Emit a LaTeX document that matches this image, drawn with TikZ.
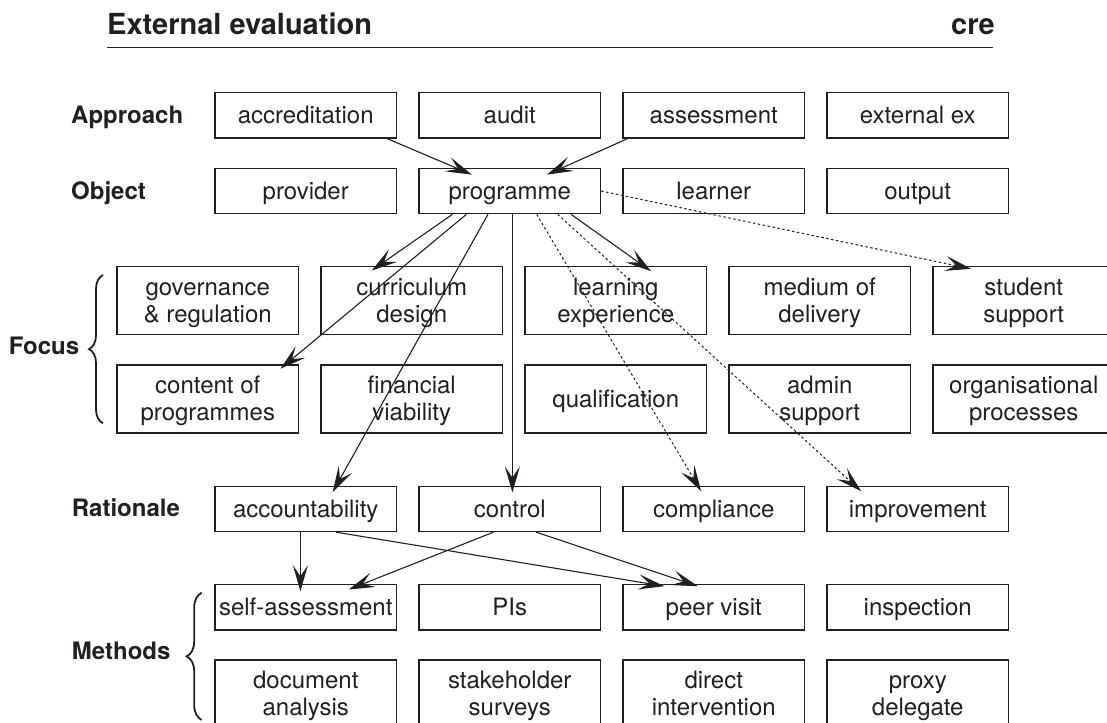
\documentclass[tikz,border=0pt]{standalone}
\usepackage{fontspec}
\setmainfont{TeX Gyre Heros}
\usetikzlibrary{arrows.meta,decorations.pathreplacing}
\definecolor{ink}{RGB}{35,31,32}
\begin{document}
\begin{tikzpicture}[x=1pt,y=-1pt,
  box/.style={draw=ink, line width=1.2pt, inner sep=0pt, minimum width=181.5pt, text=ink, font=\fontsize{24}{26.7}\selectfont},
  one/.style={box, minimum height=45.5pt, text height=17.3pt, text depth=1pt},
  onetall/.style={box, minimum height=68pt, text height=17.3pt, text depth=1pt},
  two/.style={box, minimum height=68pt, align=center, text height=44pt, text depth=1pt},
  rowlabel/.style={anchor=base west, inner sep=0pt, text=ink, font=\bfseries\fontsize{24}{26.7}\selectfont},
  headtext/.style={inner sep=0pt, text=ink, font=\bfseries\fontsize{29}{32}\selectfont},
  conn/.style={draw=ink, line width=1.1pt, -{Stealth[length=26pt,width=15pt,inset=11pt]}},
  dotconn/.style={conn, dash pattern=on 2.5pt off 2.5pt, line width=1pt},
  bracestyle/.style={draw=ink, line width=1.8pt, decorate},
]
\useasboundingbox (0,0) rectangle (1107,722);

% header
\node[headtext, anchor=base west] (title) at (107,35) {External evaluation};
\node[headtext, anchor=base east] (cre) at (995,35) {cre};
\coordinate (rl) at (107,47.7);
\coordinate (rr) at (993,47.7);
\draw[ink, line width=1.3pt] (rl) -- (rr);

% row labels
\node[rowlabel] (lapp) at (71,124) {Approach};
\node[rowlabel] (lobj) at (71,199) {Object};
\node[rowlabel, anchor=base east] (lfoc) at (79.3,354) {Focus};
\node[rowlabel] (lrat) at (71.7,516.7) {Rationale};
\node[rowlabel] (lmet) at (71.7,659) {Methods};

% braces
\coordinate (fb1) at (103,423.3);
\coordinate (fb2) at (103,275);
\draw[bracestyle, decoration={brace, amplitude=14pt}] (fb1) -- (fb2);
\coordinate (mb1) at (201.7,720);
\coordinate (mb2) at (201.7,592.7);
\draw[bracestyle, decoration={brace, amplitude=15pt}] (mb1) -- (mb2);

% Approach
\node[one] (accr) at (305.75,115.35) {accreditation};
\node[one] (audit) at (509.75,115.35) {audit};
\node[one] (assess) at (713.75,115.35) {assessment};
\node[one] (extex) at (917.75,115.35) {external ex};

% Object
\node[one] (prov) at (305.75,191) {provider};
\node[one] (prog) at (509.75,191) {programme};
\node[one] (learner) at (713.75,191) {learner};
\node[one] (output) at (917.75,191) {output};

% Focus row 1
\node[two] (gov) at (207.75,300.85) {governance\\\& regulation};
\node[two] (curr) at (411.75,300.85) {curriculum\\design};
\node[two] (learn) at (615.75,300.85) {learning\\experience};
\node[two] (medium) at (819.75,300.85) {medium of\\delivery};
\node[two] (stud) at (1023.75,300.85) {student\\support};

% Focus row 2
\node[two] (content) at (207.75,399) {content of\\programmes};
\node[two] (financ) at (411.75,399) {financial\\viability};
\node[onetall] (qual) at (615.75,399) {qualification};
\node[two] (admin) at (819.75,399) {admin\\support};
\node[two] (organ) at (1023.75,399) {organisational\\processes};

% Rationale
\node[one] (acct) at (305.75,508.85) {accountability};
\node[one] (ctrl) at (509.75,508.85) {control};
\node[one] (compl) at (713.75,508.85) {compliance};
\node[one] (improv) at (917.75,508.85) {improvement};

% Methods row 1
\node[one] (self) at (305.75,607.15) {self-assessment};
\node[one] (pis) at (509.75,607.15) {PIs};
\node[one] (peer) at (713.75,607.15) {peer visit};
\node[one] (insp) at (917.75,607.15) {inspection};

% Methods row 2
\node[two] (docan) at (305.75,694) {document\\analysis};
\node[two] (stake) at (509.75,694) {stakeholder\\surveys};
\node[two] (direct) at (713.75,694) {direct\\intervention};
\node[two] (proxy) at (917.75,694) {proxy\\delegate};

% connectors
\draw[conn] ([shift={(173,0)}]accr.south west) -- ([shift={(53.5,7)}]prog.north west);
\draw[conn] ([shift={(5,0)}]assess.south west) -- ([shift={(128.5,7)}]prog.north west);
\draw[dotconn] (prog.east) -- ([shift={(38.7,2.6)}]stud.north west);
\draw[conn] ([shift={(152.7,0)}]prog.south west) -- ([shift={(126.7,5)}]learn.north west);
\draw[dotconn] ([shift={(118.3,0)}]prog.south west) -- ([shift={(78.7,5.7)}]compl.north west);
\draw[dotconn] ([shift={(139.3,0)}]prog.south west) -- ([shift={(34.7,5.7)}]improv.north west);
\draw[conn] ([shift={(94,0)}]prog.south west) -- ([shift={(94,7)}]ctrl.north west);
\draw[conn] ([shift={(69.6,0)}]prog.south west) -- ([shift={(118.2,6.7)}]acct.north west);
\draw[conn] ([shift={(34,0)}]prog.south west) -- ([shift={(51.3,4.3)}]curr.north west);
\draw[conn] ([shift={(48,0)}]prog.south west) -- ([shift={(164,4.3)}]content.north west);
\draw[conn] ([shift={(86,0)}]acct.south west) -- ([shift={(86,7.4)}]self.north west);
\draw[conn] ([shift={(121.8,0)}]acct.south west) -- ([shift={(42,2.4)}]peer.north west);
\draw[conn] ([shift={(117.8,0)}]ctrl.south west) -- ([shift={(75.4,2.4)}]peer.north west);
\draw[conn] ([shift={(75,0)}]ctrl.south west) -- ([shift={(134.3,5.7)}]self.north west);
\end{tikzpicture}
\end{document}
